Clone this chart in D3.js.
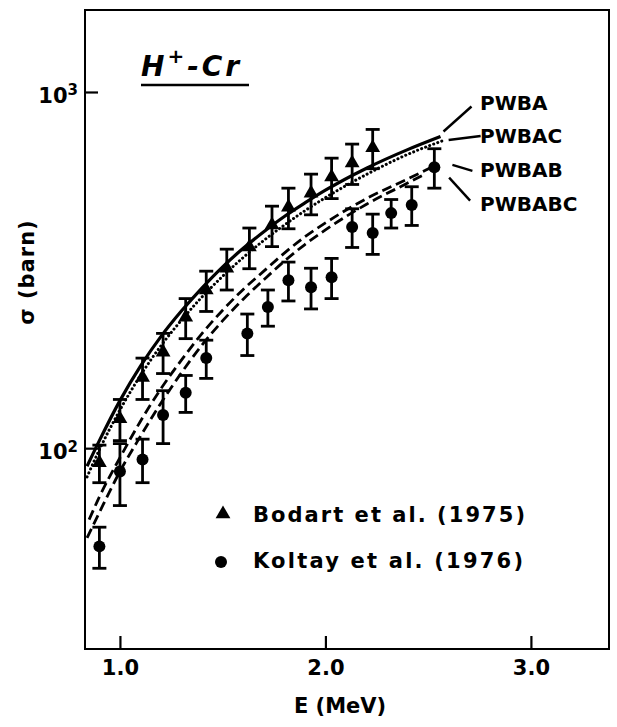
<!DOCTYPE html>
<html><head><meta charset="utf-8">
<script src="https://cdn.jsdelivr.net/npm/d3@7"></script>
<style>
html,body{margin:0;padding:0;background:#fff;}
svg{display:block;}
text{font-family:"DejaVu Sans",sans-serif;font-weight:bold;fill:#000;}
</style>
</head><body>
<svg id="chart" width="617" height="727"></svg>
<script>
// ---- data ----
const xTicks = [1.0, 2.0, 3.0];
const yTicks = [100, 1000];
const yTickExp = ["2", "3"];

const PWBA_E   = [0.84,0.9,1.0,1.1,1.2,1.3,1.4,1.5,1.6,1.7,1.8,1.9,2.0,2.2,2.4,2.56];
const PWBA_V   = [89,105,136,170,206,243,282,323,364,405,447,488,530,611,689,750];
const PWBAC_E  = [0.84,0.9,1.0,1.1,1.2,1.3,1.4,1.5,1.6,1.7,1.8,1.9,2.0,2.2,2.4,2.58];
const PWBAC_V  = [83,99,128,160,194,229,266,304,343,383,423,464,505,587,668,733];
const PWBAB_E  = [0.85,0.9,1.0,1.1,1.2,1.3,1.4,1.5,1.6,1.7,1.8,1.9,2.0,2.2,2.4,2.54];
const PWBAB_V  = [63,73,94,119,147,177,210,244,279,314,353,392,429,502,570,624];
const PWBABC_E = [0.84,0.9,1.0,1.1,1.2,1.3,1.4,1.5,1.6,1.7,1.8,1.9,2.0,2.2,2.4,2.49];
const PWBABC_V = [56,66,86,108,134,163,195,228,262,297,335,373,410,484,555,590];

const bodartE   = [0.90,1.00,1.11,1.21,1.32,1.42,1.52,1.63,1.74,1.82,1.93,2.03,2.13,2.23];
const bodartV   = [91,121,158,186,233,278,320,367,423,475,520,577,632,697];
const bodartErr = [11,16,21,24,30,36,42,48,55,62,68,75,82,88];

const koltayE   = [0.90,1.00,1.11,1.21,1.32,1.42,1.62,1.72,1.82,1.93,2.03,2.13,2.23,2.32,2.42,2.53];
const koltayV   = [53,86,93,124,143,179,210,249,296,283,302,418,402,457,482,615];
const koltayErr = [7,17,13,21,17,22,28,29,37,37,39,52,52,42,60,78];

const curveNames = ["PWBA","PWBAC","PWBAB","PWBABC"];
const legendNames = ["Bodart et al. (1975)","Koltay et al. (1976)"];

// ---- layout ----
const svg = d3.select("#chart");
const L = 85, R = 609, T = 10, B = 649;
const x = d3.scaleLinear().domain([0.83, 3.38]).range([L, R]);
const y = d3.scaleLog().domain([27.3, 1699]).range([B, T]);

const ink = "#000";

// frame
svg.append("rect").attr("x", L).attr("y", T).attr("width", R - L).attr("height", B - T)
  .attr("fill", "none").attr("stroke", ink).attr("stroke-width", 2);

// x axis
const gx = svg.append("g").attr("transform", `translate(0,${B})`)
  .call(d3.axisBottom(x).tickValues(xTicks).tickSize(-13).tickPadding(11).tickFormat(d3.format(".1f")));
gx.select(".domain").remove();
gx.selectAll(".tick line").attr("stroke", ink).attr("stroke-width", 2.2);
gx.selectAll(".tick text").attr("font-size", 21).attr("font-family", "DejaVu Sans").attr("font-weight", "bold").attr("fill", ink);

// y axis
const gy = svg.append("g").attr("transform", `translate(${L},0)`)
  .call(d3.axisLeft(y).tickValues(yTicks).tickSize(-13).tickPadding(7).tickFormat(() => ""));
gy.select(".domain").remove();
gy.selectAll(".tick line").attr("stroke", ink).attr("stroke-width", 2.2);
gy.selectAll(".tick text").each(function(d, i) {
  const t = d3.select(this).attr("font-size", 21).attr("font-family", "DejaVu Sans")
    .attr("font-weight", "bold").attr("fill", ink).attr("dy", "0.5em");
  t.text(null);
  t.append("tspan").text("10");
  t.append("tspan").attr("dy", "-0.5em").attr("font-size", 15).text(yTickExp[i]);
});

// axis titles
svg.append("text").attr("x", 340).attr("y", 713).attr("text-anchor", "middle")
  .attr("font-size", 21).text("E (MeV)");
svg.append("text").attr("transform", "translate(34,272) rotate(-90)").attr("text-anchor", "middle")
  .attr("font-size", 21).attr("letter-spacing", 1).text("σ (barn)");

// title
const title = svg.append("text").attr("x", 141).attr("y", 76).attr("font-size", 28)
  .attr("font-style", "italic").attr("letter-spacing", 3);
title.append("tspan").text("H");
title.append("tspan").attr("dy", -13).attr("font-size", 20).text("+");
title.append("tspan").attr("dy", 13).text("-Cr");
svg.append("line").attr("x1", 141).attr("x2", 249).attr("y1", 85).attr("y2", 85)
  .attr("stroke", ink).attr("stroke-width", 2.6);

// curves
const line = d3.line().x(d => x(d[0])).y(d => y(d[1])).curve(d3.curveMonotoneX);
const curves = [
  {E: PWBA_E, V: PWBA_V, dash: null, w: 3.2, cap: "butt"},
  {E: PWBAC_E, V: PWBAC_V, dash: "0.1,4.2", w: 3, cap: "round"},
  {E: PWBAB_E, V: PWBAB_V, dash: "10,5", w: 2.8, cap: "butt"},
  {E: PWBABC_E, V: PWBABC_V, dash: "10,5", w: 2.8, cap: "butt"}
];
curves.forEach(c => {
  const pts = c.E.map((e, i) => [e, c.V[i]]);
  svg.append("path").attr("d", line(pts)).attr("fill", "none").attr("stroke", ink)
    .attr("stroke-width", c.w).attr("stroke-dasharray", c.dash)
    .attr("stroke-linecap", c.cap);
});

// curve labels with leader lines
const labelY = [110, 143, 177, 211];
const leaderOff = [[3,-5,31,-30],[4,0,36,-4],[16,0,36,6],[23,4,44,27]];
curves.forEach((c, i) => {
  const ex = x(c.E[c.E.length - 1]), ey = y(c.V[c.V.length - 1]);
  const o = leaderOff[i];
  svg.append("line").attr("x1", ex + o[0]).attr("y1", ey + o[1]).attr("x2", ex + o[2]).attr("y2", ey + o[3])
    .attr("stroke", ink).attr("stroke-width", 2.4);
  svg.append("text").attr("x", 480).attr("y", labelY[i]).attr("font-size", 20).text(curveNames[i]);
});

// error bars helper
function errorBars(E, V, Err) {
  const g = svg.append("g").attr("stroke", ink).attr("stroke-width", 2.8);
  E.forEach((e, i) => {
    const cx = x(e), y1 = y(V[i] + Err[i]), y2 = y(V[i] - Err[i]);
    g.append("line").attr("x1", cx).attr("x2", cx).attr("y1", y1).attr("y2", y2);
    g.append("line").attr("x1", cx - 7).attr("x2", cx + 7).attr("y1", y1).attr("y2", y1);
    g.append("line").attr("x1", cx - 7).attr("x2", cx + 7).attr("y1", y2).attr("y2", y2);
  });
}
errorBars(bodartE, bodartV, bodartErr);
errorBars(koltayE, koltayV, koltayErr);

const tri = d3.symbol(d3.symbolTriangle).size(95);
svg.append("g").selectAll("path").data(bodartE).join("path")
  .attr("d", tri).attr("transform", (d, i) => `translate(${x(d)},${y(bodartV[i])})`).attr("fill", ink);
svg.append("g").selectAll("circle").data(koltayE).join("circle")
  .attr("cx", d => x(d)).attr("cy", (d, i) => y(koltayV[i])).attr("r", 6).attr("fill", ink);

// legend
svg.append("path").attr("d", d3.symbol(d3.symbolTriangle).size(95)).attr("transform", "translate(223,514)").attr("fill", ink);
svg.append("circle").attr("cx", 221).attr("cy", 562).attr("r", 6).attr("fill", ink);
svg.append("text").attr("x", 253).attr("y", 522).attr("font-size", 21)
  .attr("textLength", 272).attr("lengthAdjust", "spacing").text(legendNames[0]);
svg.append("text").attr("x", 253).attr("y", 568).attr("font-size", 21)
  .attr("textLength", 270).attr("lengthAdjust", "spacing").text(legendNames[1]);
</script>
</body></html>
